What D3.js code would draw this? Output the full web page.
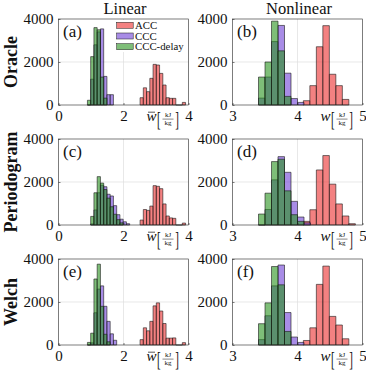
<!DOCTYPE html>
<html><head><meta charset="utf-8">
<script src="https://cdn.jsdelivr.net/npm/d3@7"></script>
<style>html,body{margin:0;padding:0;background:#fff;} svg{display:block;}</style>
</head><body>
<svg id="chart" width="366" height="370"></svg>
<script>
// ---------- data ----------
const rowNames = ["Oracle", "Periodogram", "Welch"];
const colNames = ["Linear", "Nonlinear"];
const panelTags = ["(a)", "(b)", "(c)", "(d)", "(e)", "(f)"];
const seriesNames = ["ACC", "CCC", "CCC-delay"];
const binWidth = 0.1;
const xTicksLinear = [0, 2, 4];
const xTicksNonlinear = [3, 4, 5];
const yTicks = [0, 2000, 4000];

// first bin edge of each histogram, panels (a)..(f)
const accStart   = [2.51, 4.09, 2.51, 4.09, 2.51, 4.09];
const cccStart   = [0.89, 3.40, 0.99, 3.40, 0.89, 3.40];
const delayStart = [0.89, 3.40, 0.99, 3.40, 0.89, 3.40];

// counts per bin, panels (a)..(f)
const accCounts = [
  [340, 800, 620, 1240, 1890, 1860, 1470, 930, 340, 310, 310, 0, 0, 120],
  [200, 900, 2710, 3690, 1430, 900, 260],
  [230, 720, 680, 880, 1830, 1800, 1690, 980, 420, 330, 310, 0, 0, 90],
  [170, 710, 2560, 3230, 1900, 980, 420, 60],
  [250, 800, 660, 1100, 1820, 1960, 1580, 1000, 320, 320, 330, 0, 0, 110],
  [210, 800, 2820, 3670, 1330, 930, 290]
];
const cccCounts = [
  [0, 1200, 2800, 3400, 3540, 1330, 480, 480],
  [320, 1300, 2950, 3700, 1480, 300, 120],
  [50, 700, 1500, 1850, 1780, 1430, 1350, 900, 480, 270, 150, 60],
  [0, 720, 2100, 3180, 2450, 1100, 370, 100],
  [0, 100, 1500, 2600, 2750, 1800, 1100, 520, 220],
  [250, 1360, 2750, 3720, 1510, 370, 120]
];
const delayCounts = [
  [220, 2250, 3600, 3500, 1300, 320],
  [1300, 2000, 3900, 2520, 400],
  [400, 1500, 2250, 1950, 1650, 1250, 850, 500, 250, 100],
  [510, 1480, 2950, 3060, 1590, 480, 170],
  [120, 550, 3070, 3760, 1800, 500, 150],
  [990, 1960, 3650, 2800, 630]
];

// ---------- style / layout ----------
const seriesColors = ["#eb2d2d", "#6e3fd5", "#28931e"];
const faceAlpha = 0.6;
const serif = "'Liberation Serif','Times New Roman',serif";
const colX = [58.5, 232.5], rowY = [19, 139, 259], pw = 130, ph = 86;

const svg = d3.select("#chart");

// column titles
colNames.forEach((t, c) => {
  svg.append("text").attr("x", colX[c] + pw / 2 + 1.5).attr("y", 13.5)
    .attr("text-anchor", "middle").attr("font-family", serif).attr("font-size", 16.5)
    .attr("fill", "#111").text(t);
});
// row titles
rowNames.forEach((t, r) => {
  const cy = rowY[r] + ph / 2;
  svg.append("text").attr("transform", `translate(17,${cy}) rotate(-90)`)
    .attr("text-anchor", "middle").attr("font-family", serif).attr("font-size", 18)
    .attr("font-weight", "bold").attr("fill", "#111").text(t);
});

for (let r = 0; r < 3; r++) {
  for (let c = 0; c < 2; c++) {
    const idx = r * 2 + c;
    const x0 = colX[c], y0 = rowY[r];
    const xt = c === 0 ? xTicksLinear : xTicksNonlinear;
    const x = d3.scaleLinear().domain([xt[0], xt[xt.length - 1]]).range([x0, x0 + pw]);
    const y = d3.scaleLinear().domain([yTicks[0], yTicks[yTicks.length - 1]]).range([y0 + ph, y0]);
    const g = svg.append("g");

    // grid
    g.selectAll(".gx").data(xt.slice(1, -1)).enter().append("line")
      .attr("x1", d => x(d)).attr("x2", d => x(d)).attr("y1", y0).attr("y2", y0 + ph)
      .attr("stroke", "#dedede").attr("stroke-width", 0.7);
    g.selectAll(".gy").data(yTicks.slice(1, -1)).enter().append("line")
      .attr("x1", x0).attr("x2", x0 + pw).attr("y1", d => y(d)).attr("y2", d => y(d))
      .attr("stroke", "#dedede").attr("stroke-width", 0.7);

    // histograms
    const series = [
      { start: accStart[idx], counts: accCounts[idx], color: seriesColors[0] },
      { start: cccStart[idx], counts: cccCounts[idx], color: seriesColors[1] },
      { start: delayStart[idx], counts: delayCounts[idx], color: seriesColors[2] }
    ];
    series.forEach(s => {
      const bins = s.counts.map((v, i) => ({ a: s.start + i * binWidth, b: s.start + (i + 1) * binWidth, v }));
      g.selectAll(null).data(bins).enter().append("path")
        .attr("d", d => `M${x(d.a)},${y(0)}V${y(d.v)}H${x(d.b)}V${y(0)}Z`)
        .attr("fill", s.color).attr("fill-opacity", faceAlpha)
        .attr("stroke", "#1a1a1a").attr("stroke-width", 0.6);
    });

    // axes
    const ax = g.append("g").attr("transform", `translate(0,${y0 + ph})`)
      .call(d3.axisBottom(x).tickValues(xt).tickSizeInner(-2).tickSizeOuter(0).tickPadding(5.5).tickFormat(d3.format("d")));
    const ay = g.append("g").attr("transform", `translate(${x0},0)`)
      .call(d3.axisLeft(y).tickValues(yTicks).tickSizeInner(-2).tickSizeOuter(0).tickPadding(5).tickFormat(d3.format("d")));
    [ax, ay].forEach(a => {
      a.select(".domain").remove();
      a.selectAll("line").attr("stroke", "#262626").attr("stroke-width", 0.6);
      a.selectAll("text").attr("font-family", serif).attr("font-size", 15).attr("fill", "#111");
    });
    // box
    g.append("rect").attr("x", x0).attr("y", y0).attr("width", pw).attr("height", ph)
      .attr("fill", "none").attr("stroke", "#262626").attr("stroke-width", 0.6);

    // panel tag
    g.append("text").attr("x", x0 + 4.5).attr("y", y0 + 18).attr("font-family", serif)
      .attr("font-size", 17).attr("fill", "#111").text(panelTags[idx]);

    // x label  w / w-bar [kJ/kg]
    const R = x0 + pw, by = y0 + ph + 16;
    const lab = g.append("g");
    lab.append("text").attr("x", R - 37).attr("y", by).attr("text-anchor", "middle")
      .attr("font-family", serif).attr("font-style", "italic").attr("font-size", 15)
      .attr("fill", "#111").text("w");
    if (c === 0) {
      lab.append("line").attr("x1", R - 40.5).attr("x2", R - 33.5).attr("y1", by - 8.8).attr("y2", by - 8.8)
        .attr("stroke", "#111").attr("stroke-width", 0.7);
    }
    lab.append("g").attr("transform", `translate(${R - 31.5},${by + 4.5}) scale(0.55,1)`)
      .append("text").attr("x", 0).attr("y", 0).attr("font-family", serif)
      .attr("font-size", 20).attr("fill", "#111").text("[");
    lab.append("g").attr("transform", `translate(${R - 9.5},${by + 4.5}) scale(0.55,1)`)
      .append("text").attr("x", 0).attr("y", 0).attr("font-family", serif).attr("text-anchor", "end")
      .attr("font-size", 20).attr("fill", "#111").text("]");
    lab.append("text").attr("x", R - 20.5).attr("y", by - 3.6).attr("text-anchor", "middle")
      .attr("font-family", serif).attr("font-size", 7).attr("fill", "#111").text("kJ");
    lab.append("line").attr("x1", R - 26).attr("x2", R - 15).attr("y1", by - 1.9).attr("y2", by - 1.9)
      .attr("stroke", "#111").attr("stroke-width", 0.5);
    lab.append("text").attr("x", R - 20.5).attr("y", by + 4.2).attr("text-anchor", "middle")
      .attr("font-family", serif).attr("font-size", 7).attr("fill", "#111").text("kg");

    // legend in first panel
    if (idx === 0) {
      const lg = g.append("g");
      lg.append("rect").attr("x", 114).attr("y", 20).attr("width", 73.5).attr("height", 32).attr("fill", "#fff");
      seriesNames.forEach((nm, i) => {
        const cy = 25.3 + i * 10.7;
        lg.append("rect").attr("x", 116.7).attr("y", cy - 3).attr("width", 16.5).attr("height", 6)
          .attr("fill", seriesColors[i]).attr("fill-opacity", faceAlpha)
          .attr("stroke", "#1a1a1a").attr("stroke-width", 0.5);
        lg.append("text").attr("x", 135).attr("y", cy + 3.5).attr("font-family", serif)
          .attr("font-size", 10.8).attr("fill", "#111").text(nm);
      });
    }
  }
}
</script>
</body></html>
